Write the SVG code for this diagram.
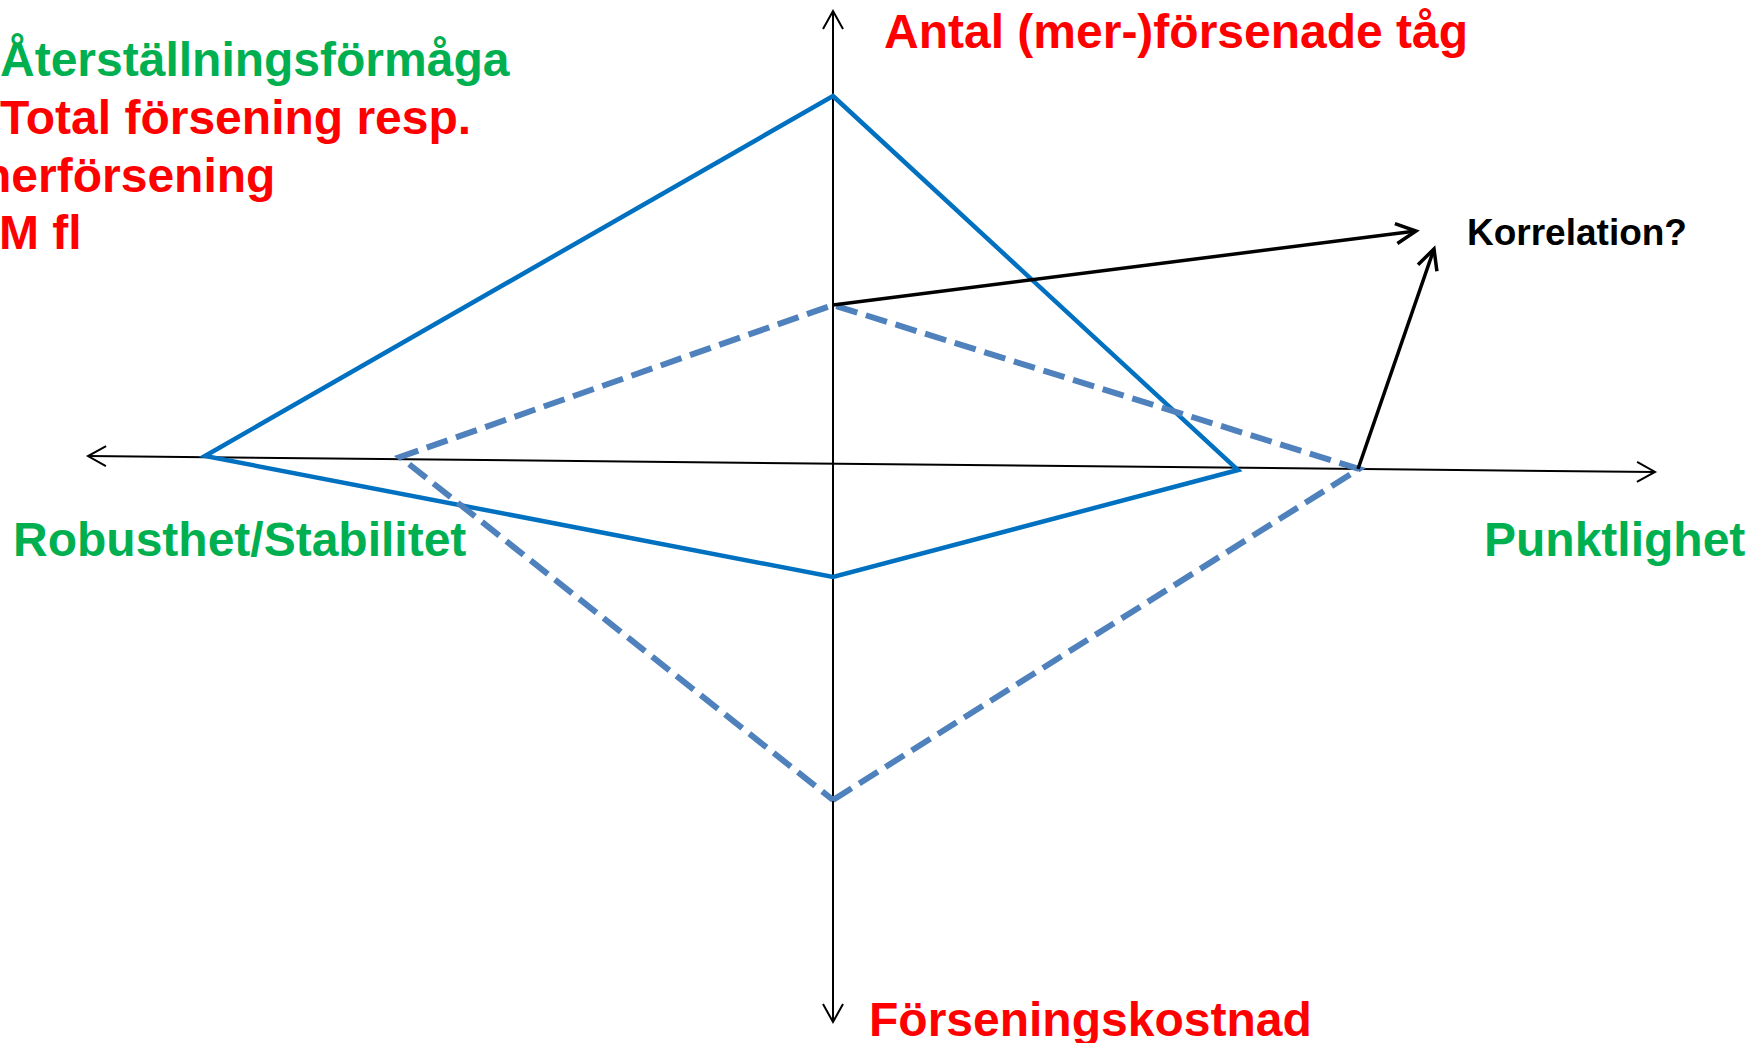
<svg xmlns="http://www.w3.org/2000/svg" width="1760" height="1043" viewBox="0 0 1760 1043">
  <style>
    .lbl { font-family: "Liberation Sans", Arial, sans-serif; font-weight: bold; font-size: 48px; }
    .red { fill: #FF0000; }
    .green { fill: #00B050; }
    .axis { fill: none; stroke: #000000; stroke-width: 2; }
    .corr { fill: none; stroke: #000000; stroke-width: 3.5; }
    .now { fill: none; stroke: #0070C0; stroke-width: 4.5; stroke-linejoin: miter; }
    .target { fill: none; stroke: #4F81BD; stroke-width: 6; stroke-dasharray: 22 9; stroke-linejoin: miter; }
  </style>
  <defs>
    <marker id="axisHead" markerUnits="userSpaceOnUse" markerWidth="40" markerHeight="40" refX="0" refY="0" orient="auto-start-reverse" overflow="visible">
      <path d="M-18,-10 L0,0 L-18,10" fill="none" stroke="#000000" stroke-width="2"/>
    </marker>
    <marker id="corrHead" markerUnits="userSpaceOnUse" markerWidth="40" markerHeight="40" refX="0" refY="0" orient="auto" overflow="visible">
      <path d="M-20,-10 L0,0 L-20,10" fill="none" stroke="#000000" stroke-width="3.5"/>
    </marker>
  </defs>

  <rect x="0" y="0" width="1760" height="1043" fill="#FFFFFF"/>

  <!-- axes -->
  <g id="axes">
    <line class="axis" x1="833" y1="11" x2="833" y2="1022" marker-start="url(#axisHead)" marker-end="url(#axisHead)"/>
    <line class="axis" x1="88" y1="456" x2="1655" y2="472" marker-start="url(#axisHead)" marker-end="url(#axisHead)"/>
  </g>

  <!-- current profile (solid) and target profile (dashed) -->
  <g id="profiles">
    <path id="profile-solid" class="now" d="M833,96 L1238,470 L833,577 L205,456 Z"/>
    <path id="profile-dashed" class="target" d="M833,800 L1359,469 L833,305 L400,457 L833,800"/>
  </g>

  <!-- correlation arrows -->
  <g id="connectors">
    <line class="corr" x1="833" y1="305" x2="1416" y2="231" marker-end="url(#corrHead)"/>
    <line class="corr" x1="1358" y1="469" x2="1434" y2="249" marker-end="url(#corrHead)"/>
  </g>

  <!-- axis labels -->
  <g id="label-top">
    <text class="lbl red" x="884" y="48">Antal (mer-)försenade tåg</text>
  </g>
  <g id="label-topleft">
    <text class="lbl green" x="0" y="76">Återställningsförmåga</text>
    <text class="lbl red" x="0" y="134">Total försening resp.</text>
    <text class="lbl red" x="-18" y="192">nerförsening</text>
    <text class="lbl red" x="-1" y="249">M fl</text>
  </g>
  <g id="label-left">
    <text class="lbl green" x="13" y="556">Robusthet/Stabilitet</text>
  </g>
  <g id="label-right">
    <text class="lbl green" x="1484" y="556">Punktlighet</text>
  </g>
  <g id="label-bottom">
    <text class="lbl red" x="869" y="1036">Förseningskostnad</text>
  </g>
  <g id="label-correlation">
    <text class="lbl" x="1467" y="245" fill="#000000" style="font-size:37px">Korrelation?</text>
  </g>
</svg>
